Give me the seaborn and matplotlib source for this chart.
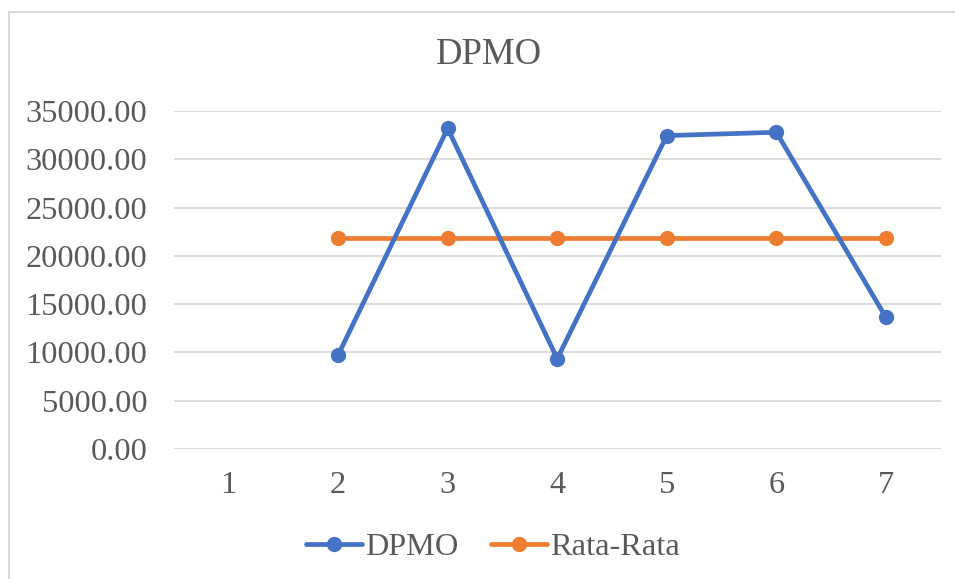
import numpy as np
import pandas as pd
import matplotlib
matplotlib.use("Agg")
import matplotlib.pyplot as plt
import seaborn as sns
from matplotlib.patches import Rectangle

# data
periods = [1, 2, 3, 4, 5, 6, 7]
dpmo = [np.nan, 9730, 33200, 9350, 32450, 32800, 13640]
rata_rata = [np.nan, 21862, 21862, 21862, 21862, 21862, 21862]

df = pd.DataFrame({"Periode": periods, "DPMO": dpmo, "Rata-Rata": rata_rata})

sns.set_theme(style="white")
plt.rcParams["font.family"] = ["Liberation Serif", "DejaVu Serif"]
text_color = "#595959"
fs = 23.3

fig = plt.figure(figsize=(9.55, 5.79), dpi=100)
ax = fig.add_axes([0.182, 0.2245, 0.803, 0.5838])

sns.lineplot(data=df, x="Periode", y="DPMO", ax=ax, color="#4472C4",
             linewidth=3.4, marker="o", markersize=11, markeredgewidth=0,
             label="DPMO", zorder=3)
sns.lineplot(data=df, x="Periode", y="Rata-Rata", ax=ax, color="#ED7D31",
             linewidth=3.4, marker="o", markersize=11, markeredgewidth=0,
             label="Rata-Rata", zorder=2)

ax.set_xlim(0.5, 7.5)
ax.set_ylim(0, 35000)
ax.set_xticks(periods)
ax.set_xticklabels([str(p) for p in periods])
ax.set_yticks(np.arange(0, 35001, 5000))
ax.set_yticklabels([f"{v:.2f}" for v in np.arange(0, 35001, 5000)])
ax.yaxis.grid(True, color="#D9D9D9", linewidth=1.3)
ax.xaxis.grid(False)
for s in ax.spines.values():
    s.set_visible(False)
ax.tick_params(axis="y", length=0, pad=19, labelsize=fs, labelcolor=text_color)
ax.tick_params(axis="x", length=0, pad=16, labelsize=fs, labelcolor=text_color)
ax.set_xlabel("")
ax.set_ylabel("")

ax.legend(loc="center", bbox_to_anchor=(0.516, 0.055),
          bbox_transform=fig.transFigure, ncol=2, frameon=False,
          fontsize=fs, handlelength=1.75, handletextpad=0.08,
          columnspacing=1.0, labelcolor=text_color)

fig.text(0.512, 1 - 55 / 579, "DPMO", ha="center", va="center",
         fontsize=26.5, color=text_color)

# chart area border
fig.patches.append(Rectangle((9 / 955, -0.1), 1.2, 1.1 - 12 / 579,
                             transform=fig.transFigure, fill=False,
                             edgecolor="#D9D9D9", linewidth=1.5))

fig.savefig("out.png", dpi=100)
